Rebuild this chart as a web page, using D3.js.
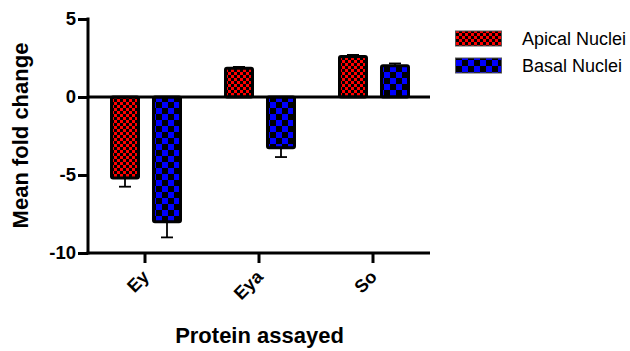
<!DOCTYPE html>
<html><head><meta charset="utf-8">
<script src="https://cdn.jsdelivr.net/npm/d3@7"></script>
<style>
html,body{margin:0;padding:0;background:#fff;}
text{font-family:"Liberation Sans",Arial,sans-serif;}
</style></head>
<body>
<svg id="chart" width="630" height="351"></svg>
<script>
const categories = ["Ey", "Eya", "So"];
const seriesNames = ["Apical Nuclei", "Basal Nuclei"];
const apicalValues = [-5.2, 1.85, 2.6];
const apicalErrors = [0.55, 0.08, 0.1];
const basalValues = [-8.0, -3.25, 2.0];
const basalErrors = [1.0, 0.6, 0.15];
const yTicks = [5, 0, -5, -10];

const svg = d3.select("#chart");
const defs = svg.append("defs");

// patterns
const pr = defs.append("pattern").attr("id","pRed").attr("patternUnits","userSpaceOnUse")
  .attr("width",6).attr("height",6);
pr.append("rect").attr("width",6).attr("height",6).attr("fill","#000");
pr.append("rect").attr("width",3).attr("height",3).attr("fill","#ff0000");
pr.append("rect").attr("x",3).attr("y",3).attr("width",3).attr("height",3).attr("fill","#ff0000");
const pb = defs.append("pattern").attr("id","pBlue").attr("patternUnits","userSpaceOnUse")
  .attr("width",12).attr("height",12);
pb.append("rect").attr("width",12).attr("height",12).attr("fill","#000");
pb.append("rect").attr("width",6).attr("height",6).attr("fill","#0000ff");
pb.append("rect").attr("x",6).attr("y",6).attr("width",6).attr("height",6).attr("fill","#0000ff");

const fills = ["url(#pRed)", "url(#pBlue)"];

const y = d3.scaleLinear().domain([-10, 5]).range([253, 19]);
const x = d3.scaleBand().domain(categories).range([88, 430]);
const xSub = d3.scaleBand().domain(seriesNames).range([23.5, 92.5]).paddingInner(0.357);

const data = [];
categories.forEach((c, i) => {
  data.push({cat:c, s:seriesNames[0], v:apicalValues[i], e:apicalErrors[i], k:0});
  data.push({cat:c, s:seriesNames[1], v:basalValues[i], e:basalErrors[i], k:1});
});

// error bars (drawn first, under bars)
const eg = svg.append("g").attr("stroke","#000").attr("stroke-width",1.8);
data.forEach(d => {
  const cx = x(d.cat) + xSub(d.s) + xSub.bandwidth()/2;
  const end = d.v >= 0 ? d.v + d.e : d.v - d.e;
  eg.append("line").attr("x1",cx).attr("x2",cx).attr("y1",y(d.v)).attr("y2",y(end));
  eg.append("line").attr("x1",cx-6).attr("x2",cx+6).attr("y1",y(end)).attr("y2",y(end));
});

// bars
svg.append("g").selectAll("rect").data(data).join("rect")
  .attr("x", d => x(d.cat) + xSub(d.s))
  .attr("width", xSub.bandwidth())
  .attr("y", d => y(Math.max(0, d.v)))
  .attr("height", d => Math.abs(y(d.v) - y(0)))
  .attr("fill", d => fills[d.k])
  .attr("stroke", "#000").attr("stroke-width", 3)
  .attr("rx", 1.5);

// zero line
svg.append("line").attr("x1",88).attr("x2",430).attr("y1",y(0)).attr("y2",y(0))
  .attr("stroke","#000").attr("stroke-width",3);

// y axis
const yAxis = svg.append("g").attr("transform","translate(88,0)")
  .call(d3.axisLeft(y).tickValues(yTicks).tickSize(10).tickPadding(2).tickFormat(d3.format("d")));
yAxis.select(".domain").attr("stroke-width",3).attr("d","M0,17.5V254.5");
yAxis.selectAll(".tick line").attr("stroke-width",3);
yAxis.selectAll("text").attr("font-size",18.5).attr("font-weight","bold")
  .attr("font-family","'Liberation Sans',Arial,sans-serif").attr("fill","#000")
  .text(d => d < 0 ? "-" + Math.abs(d) : d);

// x axis
const xAxis = svg.append("g").attr("transform","translate(0,253)")
  .call(d3.axisBottom(x).tickSize(10).tickPadding(4));
xAxis.select(".domain").attr("stroke-width",3).attr("d","M86.5,0H430");
xAxis.selectAll(".tick line").attr("stroke-width",3);
xAxis.selectAll("text").attr("font-size",18).attr("font-weight","bold")
  .attr("font-family","'Liberation Sans',Arial,sans-serif").attr("fill","#000")
  .attr("text-anchor","end").attr("dy",null)
  .attr("transform","translate(5,25) rotate(-45)")
  .attr("y",0).attr("x",0);

// titles
svg.append("text").attr("transform","translate(28,135.5) rotate(-90)")
  .attr("text-anchor","middle").attr("font-size",22).attr("font-weight","bold")
  .text("Mean fold change");
svg.append("text").attr("x",259.5).attr("y",343)
  .attr("text-anchor","middle").attr("font-size",22).attr("font-weight","bold")
  .text("Protein assayed");

// legend
const lg = svg.append("g");
seriesNames.forEach((s, i) => {
  const yy = 31 + i * 27;
  lg.append("rect").attr("x",455.5).attr("y",yy).attr("width",46).attr("height",15)
    .attr("fill",fills[i]).attr("stroke","#555").attr("stroke-width",1);
  lg.append("text").attr("x",522).attr("y",yy+13.5).attr("font-size",18).attr("fill","#000").text(s);
});
</script>
</body></html>
